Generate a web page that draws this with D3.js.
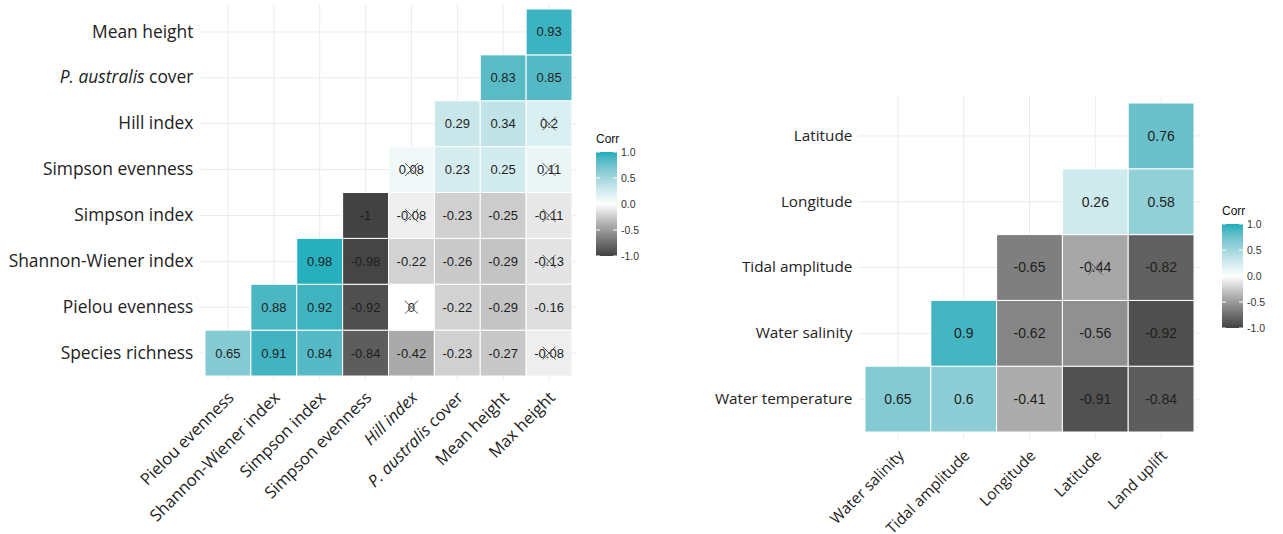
<!DOCTYPE html>
<html lang="en">
<head>
    <meta charset="utf-8">
    <title>Correlation plots</title>
    <script type="text/javascript" src="https://cdn.jsdelivr.net/npm/d3@7"></script>
    <style>
        body { margin: 0; background: #fff; }
        .axislab { font-family: "Open Sans", sans-serif; fill: #222; }
        .celllab { font-family: "Liberation Sans", Arial, sans-serif; fill: #1e1e1e; }
        .legend text { font-family: "Liberation Sans", Arial, sans-serif; }
    </style>
</head>
<body>
<script type="text/javascript">

    // left plot: vegetation variables
    var leftCols = ["Pielou evenness", "Shannon-Wiener index", "Simpson index", "Simpson evenness",
        "Hill index", "P. australis cover", "Mean height", "Max height"];
    var leftRows = ["Species richness", "Pielou evenness", "Shannon-Wiener index", "Simpson index",
        "Simpson evenness", "Hill index", "P. australis cover", "Mean height"];
    // one array per row (bottom to top), null = empty cell
    var leftValues = [
        [0.65, 0.91, 0.84, -0.84, -0.42, -0.23, -0.27, -0.08],
        [null, 0.88, 0.92, -0.92, 0, -0.22, -0.29, -0.16],
        [null, null, 0.98, -0.98, -0.22, -0.26, -0.29, -0.13],
        [null, null, null, -1, -0.08, -0.23, -0.25, -0.11],
        [null, null, null, null, 0.08, 0.23, 0.25, 0.11],
        [null, null, null, null, null, 0.29, 0.34, 0.2],
        [null, null, null, null, null, null, 0.83, 0.85],
        [null, null, null, null, null, null, null, 0.93]
    ];
    // non significant pairs [row, col]
    var leftInsig = [
        ["Species richness", "Max height"],
        ["Pielou evenness", "Hill index"],
        ["Shannon-Wiener index", "Max height"],
        ["Simpson index", "Hill index"],
        ["Simpson index", "Max height"],
        ["Simpson evenness", "Hill index"],
        ["Simpson evenness", "Max height"],
        ["Hill index", "Max height"]
    ];
    // labels shown in italics on the x axis
    var leftItalicX = ["Hill index"];

    // right plot: environmental variables
    var rightCols = ["Water salinity", "Tidal amplitude", "Longitude", "Latitude", "Land uplift"];
    var rightRows = ["Water temperature", "Water salinity", "Tidal amplitude", "Longitude", "Latitude"];
    var rightValues = [
        [0.65, 0.6, -0.41, -0.91, -0.84],
        [null, 0.9, -0.62, -0.56, -0.92],
        [null, null, -0.65, -0.44, -0.82],
        [null, null, null, 0.26, 0.58],
        [null, null, null, null, 0.76]
    ];
    var rightInsig = [
        ["Tidal amplitude", "Latitude"]
    ];

    var legendTicks = [1.0, 0.5, 0.0, -0.5, -1.0];

    var W = 1283, H = 534;

    var color = d3.scaleLinear()
        .domain([-1, 0, 1])
        .range(["#424242", "#ffffff", "#1aadbb"])
        .interpolate(d3.interpolateLab);

    var svg = d3.select("body").append("svg")
        .attr("width", W)
        .attr("height", H);

    svg.append("rect")
        .attr("width", W)
        .attr("height", H)
        .attr("fill", "#fff");

    // writes a label, "P. australis" part in italics
    function setLabel(sel, name, italicAll) {
        sel.text(null);
        if (name.indexOf("P. australis") === 0) {
            sel.append("tspan").style("font-style", "italic").text("P.  australis");
            sel.append("tspan").text(name.slice(12));
        } else {
            sel.append("tspan")
                .style("font-style", italicAll ? "italic" : "normal")
                .text(name);
        }
    }

    function drawCorr(cfg) {
        var g = svg.append("g");

        var x = d3.scaleBand()
            .domain(cfg.cols)
            .range([cfg.left, cfg.right]);

        var y = d3.scaleBand()
            .domain(cfg.rows)
            .range([cfg.bottom, cfg.top]);

        var pad = x.bandwidth() * 0.1;
        var pl = cfg.left - pad, pr = cfg.right + pad,
            pt = cfg.top - pad, pb = cfg.bottom + pad;

        //grid lines
        g.selectAll(".vgrid")
            .data(cfg.cols)
            .enter()
            .append("line")
            .attr("x1", function (d) { return x(d) + x.bandwidth() / 2; })
            .attr("x2", function (d) { return x(d) + x.bandwidth() / 2; })
            .attr("y1", pt)
            .attr("y2", pb)
            .attr("stroke", "#ebebeb")
            .attr("stroke-width", 1);

        g.selectAll(".hgrid")
            .data(cfg.rows)
            .enter()
            .append("line")
            .attr("y1", function (d) { return y(d) + y.bandwidth() / 2; })
            .attr("y2", function (d) { return y(d) + y.bandwidth() / 2; })
            .attr("x1", pl)
            .attr("x2", pr)
            .attr("stroke", "#ebebeb")
            .attr("stroke-width", 1);

        // flatten the cells
        var cells = [];
        cfg.values.forEach(function (row, i) {
            row.forEach(function (v, j) {
                if (v === null) return;
                var insig = cfg.insig.some(function (p) {
                    return p[0] === cfg.rows[i] && p[1] === cfg.cols[j];
                });
                cells.push({row: cfg.rows[i], col: cfg.cols[j], value: v, insig: insig});
            });
        });

        g.selectAll("rect.cell")
            .data(cells)
            .enter()
            .append("rect")
            .attr("class", "cell")
            .attr("x", function (d) { return x(d.col); })
            .attr("y", function (d) { return y(d.row); })
            .attr("width", x.bandwidth())
            .attr("height", y.bandwidth())
            .attr("fill", function (d) { return color(d.value); })
            .attr("stroke", "#fff")
            .attr("stroke-width", 1);

        g.selectAll("text.celllab")
            .data(cells)
            .enter()
            .append("text")
            .attr("class", "celllab")
            .attr("x", function (d) { return x(d.col) + x.bandwidth() / 2; })
            .attr("y", function (d) { return y(d.row) + y.bandwidth() / 2; })
            .attr("text-anchor", "middle")
            .attr("dy", "0.35em")
            .style("font-size", cfg.cellFont + "px")
            .text(function (d) { return String(d.value); });

        // crosses for non significant values
        var cr = cfg.cross;
        g.selectAll("path.cross")
            .data(cells.filter(function (d) { return d.insig; }))
            .enter()
            .append("path")
            .attr("class", "cross")
            .attr("d", function (d) {
                var cx = x(d.col) + x.bandwidth() / 2, cy = y(d.row) + y.bandwidth() / 2;
                return "M" + (cx - cr) + "," + (cy - cr) + "L" + (cx + cr) + "," + (cy + cr) +
                    "M" + (cx - cr) + "," + (cy + cr) + "L" + (cx + cr) + "," + (cy - cr);
            })
            .attr("stroke", "#555")
            .attr("stroke-width", 1)
            .attr("fill", "none");

        //Axis
        var yAxis = d3.axisLeft(y).tickSize(0).tickPadding(cfg.yPad);
        var ya = g.append("g")
            .attr("transform", "translate(" + pl + ",0)")
            .call(yAxis);
        ya.select(".domain").remove();
        ya.selectAll("text")
            .attr("class", "axislab")
            .attr("fill", null)
            .style("font-size", cfg.labFont + "px")
            .each(function (d) { setLabel(d3.select(this), d, false); });

        var xa = g.append("g")
            .attr("transform", "translate(0," + pb + ")");
        xa.selectAll("text")
            .data(cfg.cols)
            .enter()
            .append("text")
            .attr("class", "axislab")
            .style("font-size", cfg.xFont + "px")
            .attr("text-anchor", "end")
            .attr("transform", function (d) {
                return "translate(" + (x(d) + x.bandwidth() / 2 + cfg.xdx) + "," + cfg.xdy + ") rotate(-45)";
            })
            .each(function (d) {
                setLabel(d3.select(this), d, cfg.italicX.indexOf(d) >= 0);
            });

        drawLegend(cfg.legX, cfg.legY);
    }

    function drawLegend(lx, ly) {
        var barW = 21, barH = 104;
        var lg = svg.append("g").attr("class", "legend");
        var id = "grad" + Math.round(lx);

        var grad = svg.append("defs").append("linearGradient")
            .attr("id", id)
            .attr("x1", 0).attr("x2", 0)
            .attr("y1", 0).attr("y2", 1);
        d3.range(0, 21).forEach(function (i) {
            var t = i / 20;
            grad.append("stop")
                .attr("offset", t)
                .attr("stop-color", color(1 - 2 * t));
        });

        var s = d3.scaleLinear().domain([-1, 1]).range([ly + barH, ly]);

        lg.append("text")
            .attr("x", lx)
            .attr("y", ly - 9)
            .style("font-size", "12px")
            .attr("fill", "#111")
            .text("Corr");

        lg.append("rect")
            .attr("x", lx)
            .attr("y", ly)
            .attr("width", barW)
            .attr("height", barH)
            .attr("fill", "url(#" + id + ")");

        lg.selectAll("path.tick")
            .data(legendTicks)
            .enter()
            .append("path")
            .attr("d", function (d) {
                var yy = s(d);
                return "M" + lx + "," + yy + "h4M" + (lx + barW - 4) + "," + yy + "h4";
            })
            .attr("stroke", "#fff")
            .attr("stroke-width", 1);

        lg.selectAll("text.tl")
            .data(legendTicks)
            .enter()
            .append("text")
            .attr("class", "tl")
            .attr("x", lx + barW + 4)
            .attr("y", function (d) { return s(d); })
            .attr("dy", "0.35em")
            .style("font-size", "10.5px")
            .attr("fill", "#333")
            .text(function (d) { return d3.format(".1f")(d).replace("−", "-"); });
    }

    drawCorr({
        cols: leftCols, rows: leftRows, values: leftValues, insig: leftInsig, italicX: leftItalicX,
        left: 205, right: 572, top: 9, bottom: 376,
        cellFont: 13, labFont: 17.4, xFont: 16.5, cross: 6.5, yPad: 7,
        xdx: 7, xdy: 18,
        legX: 596, legY: 152
    });

    drawCorr({
        cols: rightCols, rows: rightRows, values: rightValues, insig: rightInsig, italicX: [],
        left: 865, right: 1194, top: 103, bottom: 432,
        cellFont: 14, labFont: 15.3, xFont: 15.3, cross: 7, yPad: 6,
        xdx: 7, xdy: 18,
        legX: 1222, legY: 224
    });

</script>
</body>
</html>
